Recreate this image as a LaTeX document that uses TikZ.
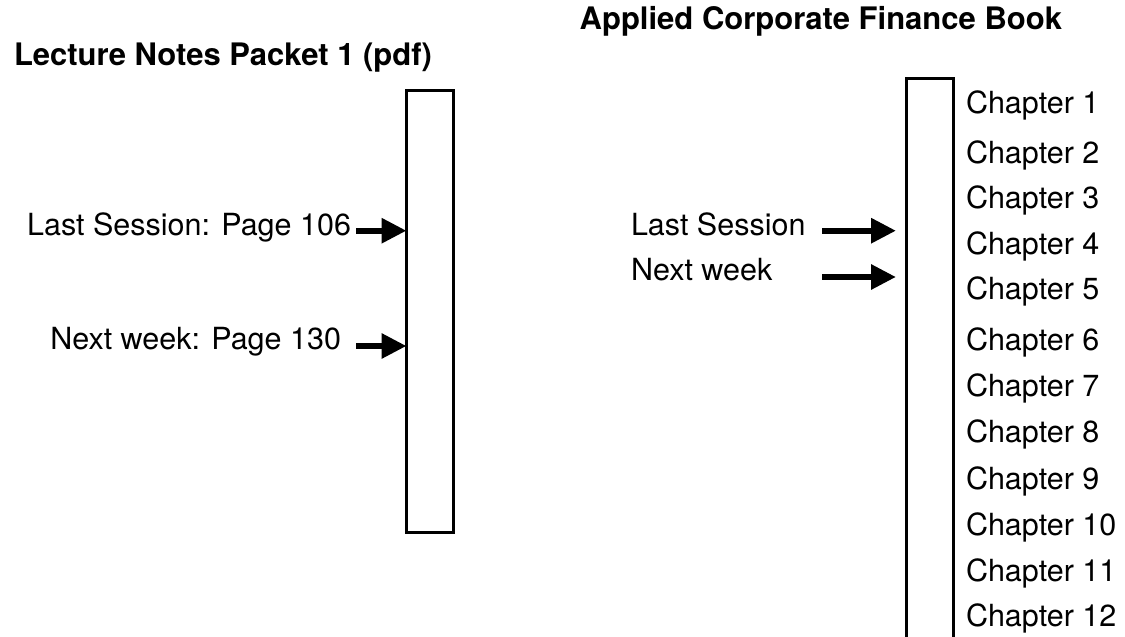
\documentclass[tikz,border=0pt]{standalone}
\usepackage{fontspec}
\setmainfont{TeX Gyre Heros}
\usetikzlibrary{arrows.meta}
\begin{document}
\begin{tikzpicture}[x=1pt,y=-1pt,
  lbl/.style={inner sep=0pt,outer sep=0pt,font=\fontsize{30.5}{36}\selectfont},
  ttl/.style={inner sep=0pt,outer sep=0pt,font=\fontsize{31}{37}\selectfont\bfseries},
  bar/.style={draw=black,line width=2.2pt,fill=white,inner sep=0pt,outer sep=0pt},
  arr/.style={line width=6pt,-{Triangle[length=25pt,width=24pt]}}]
\useasboundingbox (0,0) rectangle (1125,637);
% bars
\node[bar,minimum width=47pt,minimum height=442pt,anchor=north west] (lbar) at (406.5,90.5) {};
\node[bar,minimum width=47pt,minimum height=565pt,anchor=north west] (rbar) at (906.5,78.5) {};
% titles
\node[ttl,anchor=base west] (ltitle) at (14,65.5) {Lecture Notes Packet 1 (pdf)};
\node[ttl,anchor=base east] (rtitle) at (1062,30) {Applied Corporate Finance Book};
% left labels
\node[lbl,anchor=base east] (l1) at (351,235.7) {Last Session: Page 106};
\node[lbl,anchor=base east] (l2) at (341,349) {Next week: Page 130};
\coordinate (l1s) at (356,230.7);
\coordinate (l2s) at (356,346);
\draw[arr] (l1s) -- (lbar.west |- l1s);
\draw[arr] (l2s) -- (lbar.west |- l2s);
% right labels
\node[lbl,anchor=base west] (r1) at (631,235.7) {Last Session};
\node[lbl,anchor=base west] (r2) at (631,280.7) {Next week};
\coordinate (r1s) at (822,230.7);
\coordinate (r2s) at (822,277);
\coordinate (r1e) at (896,230.7);
\coordinate (r2e) at (896,277);
\draw[arr] (r1s) -- (r1e);
\draw[arr] (r2s) -- (r2e);
% chapters
\foreach \n/\y in {1/113,2/163.3,3/208.3,4/254.3,5/299.3,6/350.7,7/396.7,8/442.7,9/489,10/535,11/581,12/626.7}{
  \node[lbl,anchor=base west] (ch\n) at (966,\y) {Chapter \n};
}
\end{tikzpicture}
\end{document}
